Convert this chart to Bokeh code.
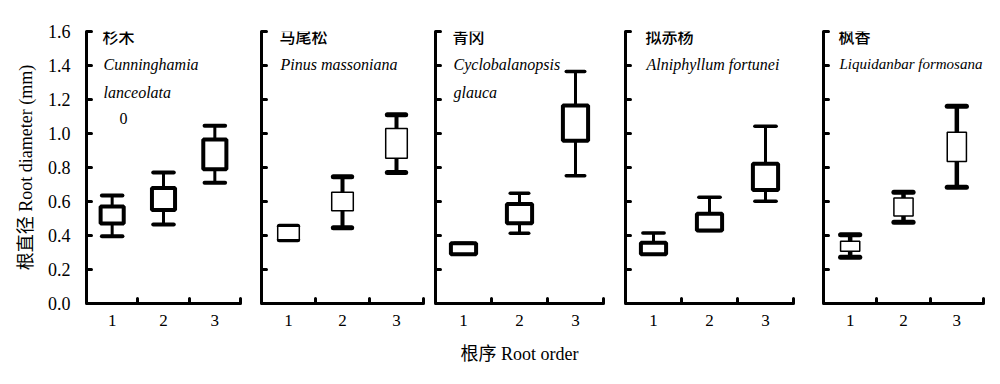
from bokeh.plotting import figure
from bokeh.layouts import row
from bokeh.models import Range1d, FixedTicker, NumeralTickFormatter, Label
from bokeh.embed import file_html
from bokeh.resources import INLINE

# ---------------- data ----------------
orders = [1, 2, 3]
order_labels = ["1", "2", "3"]
y_ticks = [0.0, 0.2, 0.4, 0.6, 0.8, 1.0, 1.2, 1.4, 1.6]

species_cn = ["杉木", "马尾松", "青冈", "拟赤杨", "枫香"]
species_latin = [["Cunninghamia", "lanceolata", "0"],
                 ["Pinus massoniana"],
                 ["Cyclobalanopsis", "glauca"],
                 ["Alniphyllum fortunei"],
                 ["Liquidanbar  formosana"]]

# whisker top, box top, box bottom, whisker bottom (mm)
whisk_hi = [[0.635, 0.770, 1.045],
            [0.455, 0.745, 1.110],
            [0.355, 0.648, 1.365],
            [0.415, 0.625, 1.043],
            [0.404, 0.655, 1.160]]
box_hi = [[0.570, 0.680, 0.965],
          [0.455, 0.655, 1.030],
          [0.355, 0.585, 1.165],
          [0.357, 0.528, 0.822],
          [0.366, 0.620, 1.008]]
box_lo = [[0.470, 0.550, 0.790],
          [0.375, 0.545, 0.855],
          [0.290, 0.472, 0.958],
          [0.290, 0.430, 0.668],
          [0.308, 0.514, 0.835]]
whisk_lo = [[0.395, 0.465, 0.710],
            [0.375, 0.445, 0.770],
            [0.290, 0.413, 0.752],
            [0.290, 0.430, 0.602],
            [0.272, 0.478, 0.684]]

y_title = "根直径 Root diameter (mm)"
x_title = "根序 Root order"

# ---------------- styles / geometry ----------------
frame_w = [154, 162, 168, 168, 160]
border_l = [86, 16, 7, 17, 25]
border_r = [5, 5, 5, 5, 16]
box_w = [0.45, 0.40, 0.45, 0.45, 0.36]
cap_w = [0.40, 0.34, 0.33, 0.38, 0.36]
box_lw = [4, 1.5, 4, 4, 1.5]
stem_lw = [3, 4, 3, 3, 4.5]
cap_lw = [4, 5, 3.5, 3.5, 5]
text_dx = [16, 18, 17, 20, 15]
latin_size = ["16px", "16px", "16px", "16px", "15px"]

SERIF = "Liberation Serif, Noto Sans CJK SC"
CJK = "Noto Sans CJK SC Medium, Noto Sans CJK SC"

figs = []
for i in range(5):
    p = figure(output_backend="svg", toolbar_location=None,
               frame_width=frame_w[i], frame_height=272,
               x_range=Range1d(0.5, 3.5), y_range=Range1d(0, 1.6),
               min_border_left=border_l[i], min_border_right=border_r[i],
               min_border_top=31, min_border_bottom=73,
               background_fill_color="white", border_fill_color="white")
    p.outline_line_color = None
    p.xgrid.visible = False
    p.ygrid.visible = False

    cats = orders
    xl = [c - box_w[i] / 2 for c in cats]
    xr = [c + box_w[i] / 2 for c in cats]
    cl = [c - cap_w[i] / 2 for c in cats]
    cr = [c + cap_w[i] / 2 for c in cats]

    # stems
    p.segment(x0=cats, y0=box_hi[i], x1=cats, y1=whisk_hi[i],
              line_color="black", line_width=stem_lw[i])
    p.segment(x0=cats, y0=box_lo[i], x1=cats, y1=whisk_lo[i],
              line_color="black", line_width=stem_lw[i])
    # caps
    p.segment(x0=cl, y0=whisk_hi[i], x1=cr, y1=whisk_hi[i],
              line_color="black", line_width=cap_lw[i], line_cap="round")
    p.segment(x0=cl, y0=whisk_lo[i], x1=cr, y1=whisk_lo[i],
              line_color="black", line_width=cap_lw[i], line_cap="round")
    # boxes
    p.quad(left=xl, right=xr, top=box_hi[i], bottom=box_lo[i],
           fill_color="white", line_color="black", line_width=box_lw[i])

    # x axis
    xa = p.xaxis[0]
    xa.ticker = FixedTicker(ticks=orders, minor_ticks=[1.5, 2.5, 3.5])
    xa.major_label_overrides = {o: l for o, l in zip(orders, order_labels)}
    xa.axis_line_width = 3
    xa.axis_line_color = "black"
    xa.major_tick_in = 0
    xa.major_tick_out = 0
    xa.minor_tick_in = 5
    xa.minor_tick_out = 0
    xa.minor_tick_line_width = 3
    xa.minor_tick_line_cap = "round"
    xa.major_label_standoff = 11
    xa.major_label_text_font = SERIF
    xa.major_label_text_font_size = "17px"
    xa.major_label_text_color = "black"

    # y axis
    ya = p.yaxis[0]
    ya.axis_line_width = 3
    ya.axis_line_color = "black"
    ya.major_tick_out = 0
    ya.minor_tick_out = 0
    if i == 0:
        ya.ticker = FixedTicker(ticks=y_ticks)
        ya.major_tick_in = 5
        ya.major_tick_line_width = 3
        ya.major_tick_line_cap = "round"
        ya.minor_tick_in = 0
        ya.formatter = NumeralTickFormatter(format="0.0")
        ya.major_label_standoff = 16
        ya.major_label_text_font = SERIF
        ya.major_label_text_font_size = "18px"
        ya.major_label_text_color = "black"
        ya.axis_label = y_title
        ya.axis_label_text_font = SERIF
        ya.axis_label_text_font_size = "18px"
        ya.axis_label_text_font_style = "normal"
        ya.axis_label_text_color = "black"
        ya.axis_label_standoff = 9
    else:
        # unlabeled axis: tick marks only (as minor ticks)
        ya.ticker = FixedTicker(ticks=[], minor_ticks=y_ticks)
        ya.major_tick_in = 0
        ya.minor_tick_in = 5
        ya.minor_tick_line_width = 3
        ya.minor_tick_line_cap = "round"
        ya.major_label_standoff = 0

    if i == 2:
        xa.axis_label = x_title
        xa.axis_label_text_font = SERIF
        xa.axis_label_text_font_size = "18px"
        xa.axis_label_text_font_style = "normal"
        xa.axis_label_text_color = "black"
        xa.axis_label_standoff = 15

    # panel texts
    p.add_layout(Label(x=0.5, y=1.576, x_offset=text_dx[i], text=species_cn[i],
                       text_font=CJK, text_font_size="16px",
                       text_color="black", text_baseline="middle", text_align="left"))
    lat = species_latin[i]
    ys = [1.406, 1.241]
    for j, t in enumerate(lat[:2]):
        p.add_layout(Label(x=0.5, y=ys[j], x_offset=text_dx[i] + 1, text=t,
                           text_font="Liberation Serif", text_font_style="italic",
                           text_font_size=latin_size[i], text_color="black",
                           text_baseline="middle", text_align="left"))
    if len(lat) > 2:
        p.add_layout(Label(x=0.5, y=1.088, x_offset=37, text=lat[2],
                           text_font="Liberation Serif", text_font_size="16px",
                           text_color="black", text_baseline="middle",
                           text_align="center"))
    figs.append(p)

layout = row(*figs, spacing=0)
open("out.html", "w").write(file_html(layout, INLINE))
